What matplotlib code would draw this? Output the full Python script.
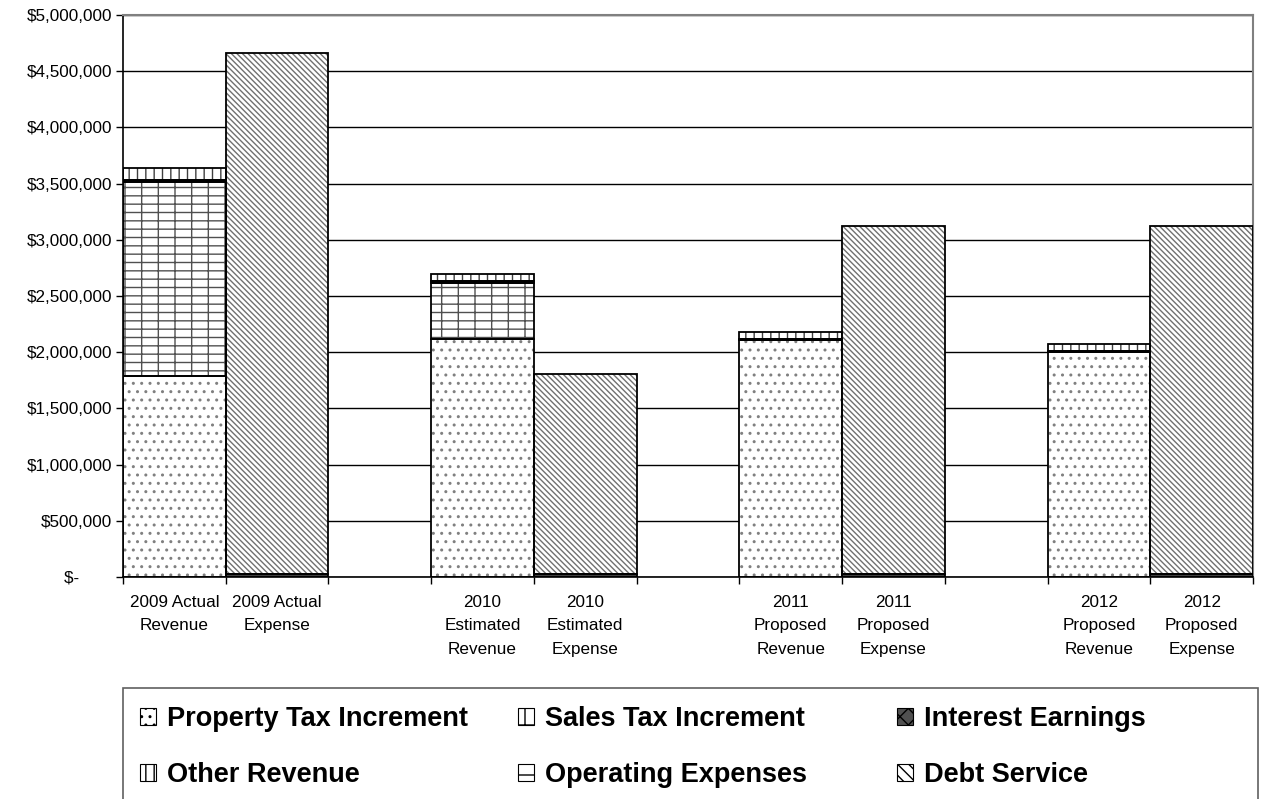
import numpy as np
import matplotlib.pyplot as plt
from matplotlib.patches import Patch, Rectangle
from matplotlib.ticker import FuncFormatter

plt.rcParams['font.family'] = ['Liberation Sans', 'DejaVu Sans']
plt.rcParams['hatch.linewidth'] = 1.0

# one slot per column, blanks separate the years
slots = ['2009 Actual\nRevenue', '2009 Actual\nExpense', '',
         '2010\nEstimated\nRevenue', '2010\nEstimated\nExpense', '',
         '2011\nProposed\nRevenue', '2011\nProposed\nExpense', '',
         '2012\nProposed\nRevenue', '2012\nProposed\nExpense']

# revenue columns (slots 0, 3, 6, 9)
rev_pos = [0, 3, 6, 9]
property_tax = [1790000, 2120000, 2110000, 2005000]
sales_tax = [1720000, 500000, 0, 0]
interest = [20000, 10000, 5000, 5000]
other_rev = [105000, 70000, 65000, 67000]

# expense columns (slots 1, 4, 7, 10)
exp_pos = [1, 4, 7, 10]
operating = [30000, 30000, 30000, 30000]
debt_service = [4635000, 1780000, 3090000, 3090000]

# name: bar hatch, hatch colour, face colour, legend hatch, legend face
styles = {
    'Property Tax Increment': ('..', '#808080', 'white', '..', 'white'),
    'Sales Tax Increment': ('--|', '#505050', 'white', '-|', 'white'),
    'Interest Earnings': ('xxxx', '#202020', '#404040', 'xx', '#505050'),
    'Other Revenue': ('||', '#404040', 'white', '||', 'white'),
    'Operating Expenses': ('----', '#202020', '#404040', '-', 'white'),
    'Debt Service': ('\\' * 6, '#707070', 'white', '\\\\\\', 'white'),
}

fig = plt.figure(figsize=(12.61, 7.99), dpi=100)
ax = fig.add_axes([123 / 1261, 222 / 799, 1130 / 1261, 562 / 799])


def stack(positions, layers, names):
    bottom = np.zeros(len(positions))
    for vals, name in zip(layers, names):
        vals = np.array(vals, dtype=float)
        hatch, hc, fc = styles[name][:3]
        ax.bar(positions, vals, width=1.0, bottom=bottom, color=fc,
               edgecolor=hc, linewidth=0, hatch=hatch, zorder=2)
        ax.bar(positions, vals, width=1.0, bottom=bottom, fill=False,
               edgecolor='black', linewidth=1.3, zorder=3)
        bottom += vals


stack(rev_pos, [property_tax, sales_tax, interest, other_rev],
      ['Property Tax Increment', 'Sales Tax Increment',
       'Interest Earnings', 'Other Revenue'])
stack(exp_pos, [operating, debt_service],
      ['Operating Expenses', 'Debt Service'])

ax.set_xlim(-0.5, 10.5)
ax.set_ylim(0, 5000000)
ax.set_yticks(np.arange(0, 5000001, 500000))
ax.yaxis.set_major_formatter(FuncFormatter(
    lambda v, p: '$-' + ' ' * 7 if v == 0 else '${:,.0f}'.format(v)))
ax.yaxis.grid(True, color='black', linewidth=1.0, zorder=1)
ax.set_axisbelow(True)

# ticks between columns, labels under each column
ax.set_xticks(np.arange(-0.5, 11, 1.0))
ax.set_xticklabels([])
lab_pos = [i for i, s in enumerate(slots) if s]
ax.set_xticks(lab_pos, minor=True)
ax.set_xticklabels([slots[i] for i in lab_pos], minor=True,
                   linespacing=1.7)
ax.tick_params(axis='x', which='minor', length=0, pad=13, labelsize=12.3)
ax.tick_params(axis='x', which='major', length=5, width=1, direction='out')
ax.tick_params(axis='y', length=5, width=1, pad=3, labelsize=12.3)

for s in ['top', 'right']:
    ax.spines[s].set_color('#808080')
    ax.spines[s].set_linewidth(1.5)
for s in ['left', 'bottom']:
    ax.spines[s].set_color('black')
    ax.spines[s].set_linewidth(1.2)

# legend: three equal columns inside a framed box under the chart
columns = [['Property Tax Increment', 'Other Revenue'],
           ['Sales Tax Increment', 'Operating Expenses'],
           ['Interest Earnings', 'Debt Service']]
col_x = [140, 518, 897]
for names, x in zip(columns, col_x):
    handles = [Patch(facecolor=styles[n][4], edgecolor='black',
                     hatch=styles[n][3], linewidth=0.8) for n in names]
    leg = fig.legend(handles, names, ncol=1, loc='upper left',
                     bbox_to_anchor=(x / 1261, 1 - 706 / 799), frameon=False,
                     prop={'weight': 'bold', 'size': 19.5},
                     handlelength=0.6, handleheight=0.6, handletextpad=0.4,
                     labelspacing=1.12, borderpad=0, borderaxespad=0)
fig.patches.append(Rectangle((123 / 1261, -0.05), 1135 / 1261,
                             (799 - 688) / 799 + 0.05,
                             transform=fig.transFigure, fill=False,
                             edgecolor='#606060', linewidth=1.2))

fig.savefig('out.png', dpi=100)
